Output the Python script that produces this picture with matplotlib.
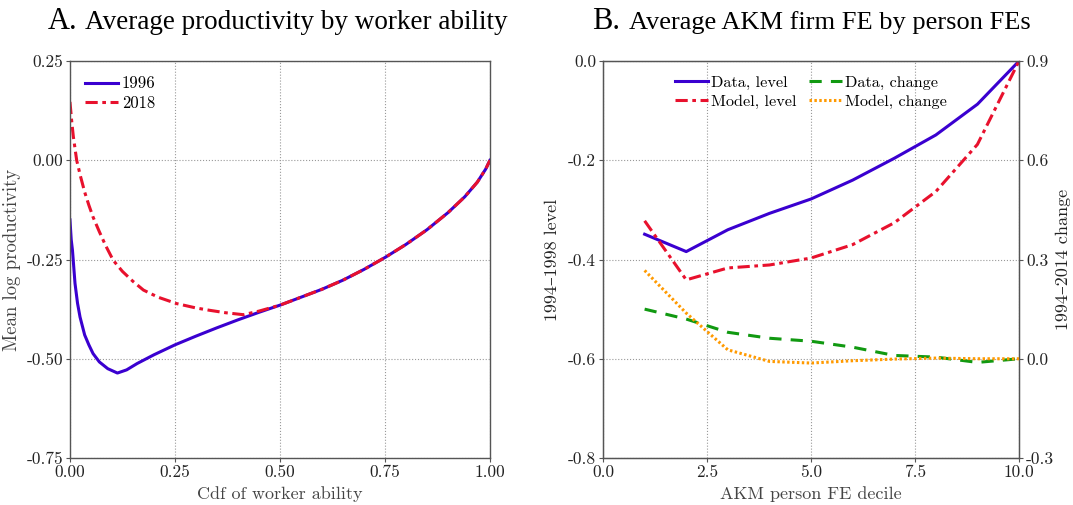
import matplotlib
matplotlib.use("Agg")
import matplotlib.pyplot as plt
from matplotlib.ticker import FuncFormatter

# -----------------------------------
# Data: panel A
# -----------------------------------
cdf_1996 = [0.0, 0.003, 0.006, 0.012, 0.018, 0.024, 0.035, 0.045, 0.055, 0.07,
            0.09, 0.113, 0.135, 0.16, 0.2, 0.25, 0.3, 0.35, 0.4, 0.45, 0.5,
            0.55, 0.6, 0.65, 0.7, 0.75, 0.8, 0.85, 0.9, 0.94, 0.97, 0.99, 1.0]
prod_1996 = [-0.15, -0.20, -0.227, -0.31, -0.36, -0.395, -0.44, -0.465, -0.487, -0.508,
             -0.525, -0.536, -0.528, -0.512, -0.49, -0.465, -0.443, -0.422, -0.402, -0.383, -0.365,
             -0.345, -0.325, -0.302, -0.275, -0.245, -0.212, -0.175, -0.132, -0.092, -0.055, -0.022, 0.0]

cdf_2018 = [0.0, 0.004, 0.008, 0.012, 0.016, 0.025, 0.035, 0.045, 0.055, 0.07,
            0.085, 0.103, 0.125, 0.15, 0.175, 0.21, 0.254, 0.3, 0.333, 0.37, 0.413,
            0.45, 0.5, 0.55, 0.6, 0.65, 0.7, 0.75, 0.8, 0.85, 0.9, 0.94, 0.97, 0.99, 1.0]
prod_2018 = [0.147, 0.10, 0.06, 0.03, 0.0, -0.04, -0.08, -0.113, -0.143, -0.18,
             -0.215, -0.252, -0.28, -0.305, -0.327, -0.345, -0.361, -0.372, -0.378, -0.384, -0.389,
             -0.38, -0.365, -0.345, -0.325, -0.302, -0.275, -0.245, -0.212, -0.175, -0.132, -0.092, -0.055, -0.022, 0.0]

# -----------------------------------
# Data: panel B (deciles)
# -----------------------------------
deciles = [1, 2, 3, 4, 5, 6, 7, 8, 9, 10]
data_level = [-0.349, -0.384, -0.340, -0.307, -0.278, -0.240, -0.196, -0.149, -0.087, 0.0]
model_level = [-0.322, -0.441, -0.417, -0.411, -0.397, -0.370, -0.326, -0.263, -0.168, 0.0]
data_change = [0.150, 0.120, 0.080, 0.062, 0.053, 0.035, 0.010, 0.005, -0.011, 0.0]
model_change = [0.267, 0.138, 0.027, -0.008, -0.013, -0.006, -0.001, 0.002, 0.0, 0.0]

plt.rcParams['font.family'] = ['cmr10', 'DejaVu Serif']
plt.rcParams['axes.unicode_minus'] = False
plt.rcParams['mathtext.fontset'] = 'cm'

BLUE = '#3a00d0'
RED = '#e8112d'
GREEN = '#119911'
ORANGE = '#ff9a00'
GREYTXT = '#444444'
SPINE = '#555555'
LW = 2.2
DASHDOT = (0, (4, 1.5, 1.2, 1.5))
TITLE_FONT = ['Liberation Serif', 'DejaVu Serif']


def style_axes(ax):
    for s in ax.spines.values():
        s.set_color(SPINE)
        s.set_linewidth(1.0)
    ax.tick_params(direction='out', length=3, pad=2, colors=SPINE,
                   labelcolor='#222222', labelsize=12.5)
    ax.grid(True, linestyle=':', color='#999999', linewidth=0.8)


fig = plt.figure(figsize=(10.73, 5.05), dpi=100)

# panel titles: big letter, then the rest
title_y = 1 - 29 / 505
fig.text(48 / 1073, title_y, 'A.', fontsize=22, family=TITLE_FONT, va='baseline')
fig.text(85 / 1073, title_y, 'Average productivity by worker ability', fontsize=19.5,
         family=TITLE_FONT, va='baseline')
fig.text(592 / 1073, title_y, 'B.', fontsize=22, family=TITLE_FONT, va='baseline')
fig.text(629 / 1073, title_y, 'Average AKM firm FE by person FEs', fontsize=19,
         family=TITLE_FONT, va='baseline')

# -----------------------------------
# Panel A
# -----------------------------------
ax1 = fig.add_axes([0.0652, 0.0931, 0.3914, 0.786])
ax1.plot(cdf_1996, prod_1996, color=BLUE, lw=LW, label='1996')
ax1.plot(cdf_2018, prod_2018, color=RED, lw=LW, ls=DASHDOT, label='2018')
ax1.set_xlim(0, 1)
ax1.set_ylim(-0.75, 0.25)
ax1.set_xticks([0, 0.25, 0.5, 0.75, 1.0])
ax1.set_yticks([-0.75, -0.5, -0.25, 0.0, 0.25])
ax1.xaxis.set_major_formatter(FuncFormatter(lambda v, p: f"{v:.2f}"))
ax1.yaxis.set_major_formatter(FuncFormatter(lambda v, p: f"{v:.2f}"))
style_axes(ax1)
ax1.set_xlabel('Cdf of worker ability', fontsize=13, color=GREYTXT, labelpad=4)
ax1.set_ylabel('Mean log productivity', fontsize=13.5, color=GREYTXT, labelpad=4)
ax1.legend(loc='upper left', frameon=False, fontsize=12, handlelength=2.0,
           handletextpad=0.2, borderaxespad=0.5, labelspacing=0.25)

# -----------------------------------
# Panel B
# -----------------------------------
ax2 = fig.add_axes([0.562, 0.0931, 0.3877, 0.786])
ax3 = ax2.twinx()
l1, = ax2.plot(deciles, data_level, color=BLUE, lw=LW, label='Data, level')
l2, = ax2.plot(deciles, model_level, color=RED, lw=LW, ls=DASHDOT,
               label='Model, level')
l3, = ax3.plot(deciles, data_change, color=GREEN, lw=LW, ls=(0, (4, 3)),
               label='Data, change')
l4, = ax3.plot(deciles, model_change, color=ORANGE, lw=LW, ls=(0, (0.8, 0.8)),
               label='Model, change')
ax2.set_xlim(0, 10)
ax2.set_ylim(-0.8, 0.0)
ax3.set_ylim(-0.3, 0.9)
ax2.set_xticks([0, 2.5, 5, 7.5, 10])
ax2.set_yticks([-0.8, -0.6, -0.4, -0.2, 0.0])
ax3.set_yticks([-0.3, 0.0, 0.3, 0.6, 0.9])
ax2.xaxis.set_major_formatter(FuncFormatter(lambda v, p: f"{v:.1f}"))
ax2.yaxis.set_major_formatter(FuncFormatter(lambda v, p: f"{v:.1f}"))
ax3.yaxis.set_major_formatter(FuncFormatter(lambda v, p: f"{v:.1f}"))
style_axes(ax2)
ax3.tick_params(direction='out', length=3, pad=2, colors=SPINE,
                labelcolor='#222222', labelsize=12.5)
for s in ax3.spines.values():
    s.set_color(SPINE)
ax2.set_xlabel('AKM person FE decile', fontsize=13, color=GREYTXT, labelpad=4)
ax2.set_ylabel('1994\u20131998 level', fontsize=13, color='#222222', labelpad=6)
ax3.set_ylabel('1994\u20132014 change', fontsize=13, color='#222222', labelpad=1)
ax2.legend([l1, l2, l3, l4], [l.get_label() for l in (l1, l2, l3, l4)],
           loc='upper center', ncol=2, frameon=False, fontsize=11.7,
           handlelength=2.0, handletextpad=0.2, columnspacing=0.8,
           labelspacing=0.25, borderaxespad=0.5, bbox_to_anchor=(0.5, 1.0))

fig.savefig('out.png', dpi=100)
